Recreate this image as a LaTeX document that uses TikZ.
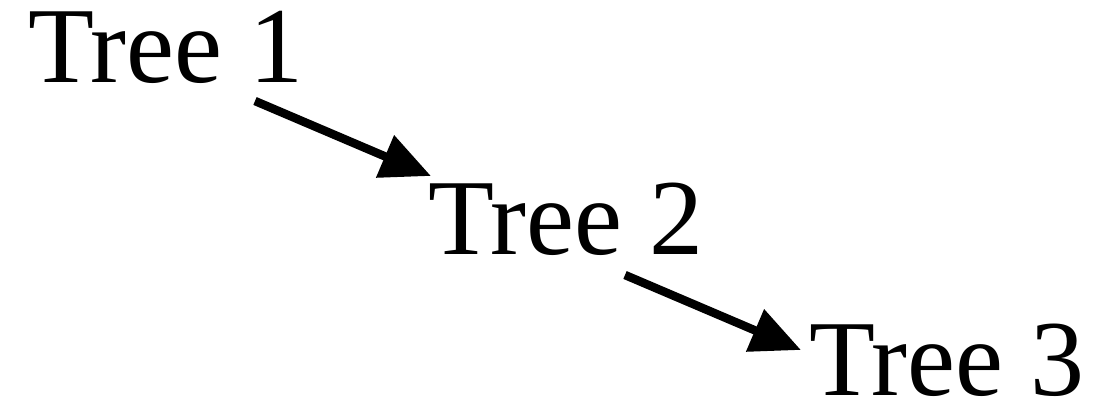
\documentclass[tikz,border=0pt]{standalone}
\usepackage{fontspec}
\setmainfont{Liberation Serif}
\usetikzlibrary{arrows.meta}
\begin{document}
\begin{tikzpicture}[x=1pt,y=1pt,
  lbl/.style={anchor=base west,inner sep=0pt,font=\fontsize{108}{112}\selectfont},
  arr/.style={line width=8.5pt,-{Triangle[length=50pt,width=44pt]}}]
\useasboundingbox (0,0) rectangle (1096,-402);
\node[lbl] (t1) at (28,-82) {Tree 1};
\node[lbl] (t2) at (428,-254) {Tree 2};
\node[lbl] (t3) at (809,-395) {Tree 3};
\coordinate (a1s) at (255,-101);
\coordinate (a1e) at (431,-176);
\coordinate (a2s) at (625,-275);
\coordinate (a2e) at (801,-350);
\draw[arr] (a1s) -- (a1e);
\draw[arr] (a2s) -- (a2e);
\end{tikzpicture}
\end{document}
